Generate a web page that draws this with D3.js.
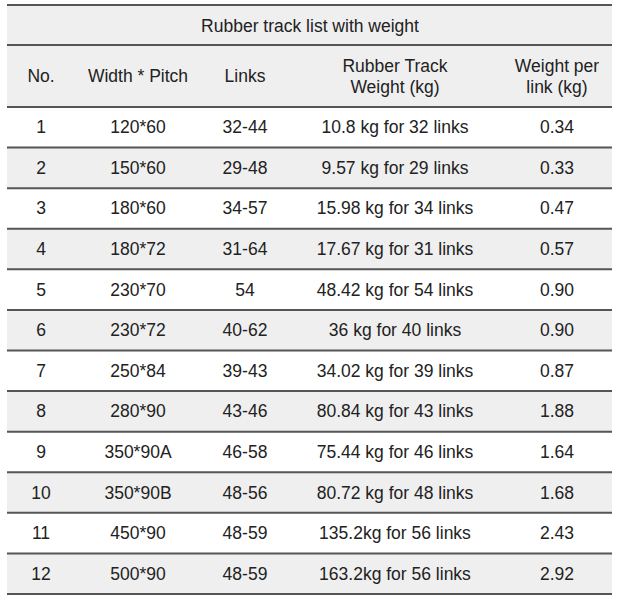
<!DOCTYPE html>
<html><head><meta charset="utf-8">
<script src="https://cdn.jsdelivr.net/npm/d3@7"></script>
<style>body{margin:0;background:#fff}</style>
</head><body>
<svg id="chart" width="621" height="607"></svg>
<script>
var title = "Rubber track list with weight"
var headers = [["No."], ["Width * Pitch"], ["Links"], ["Rubber Track", "Weight (kg)"], ["Weight per", "link (kg)"]]
var nums = ["1","2","3","4","5","6","7","8","9","10","11","12"]
var sizes = ["120*60","150*60","180*60","180*72","230*70","230*72","250*84","280*90","350*90A","350*90B","450*90","500*90"]
var links = ["32-44","29-48","34-57","31-64","54","40-62","39-43","43-46","46-58","48-56","48-59","48-59"]
var weights = ["10.8 kg for 32 links","9.57 kg for 29 links","15.98 kg for 34 links","17.67 kg for 31 links","48.42 kg for 54 links","36 kg for 40 links","34.02 kg for 39 links","80.84 kg for 43 links","75.44 kg for 46 links","80.72 kg for 48 links","135.2kg for 56 links","163.2kg for 56 links"]
var perLink = ["0.34","0.33","0.47","0.57","0.90","0.90","0.87","1.88","1.64","1.68","2.43","2.92"]

var svg = d3.select("#chart")
var left = 7, right = 612
var colX = [41, 138, 245, 395, 557]
var font = "Liberation Sans, Arial, sans-serif"
var fs = 17.5
var rows = nums.map((n, i) => [n, sizes[i], links[i], weights[i], perLink[i]])

var y = d3.scaleBand().domain(d3.range(rows.length)).range([107, 594]).padding(0)

// backgrounds
svg.append("rect").attr("x", left).attr("y", 5).attr("width", right - left).attr("height", 102).attr("fill", "#efefef")
svg.selectAll("rect.row").data(rows).enter().append("rect")
  .attr("x", left).attr("y", (d, i) => y(i)).attr("width", right - left).attr("height", y.bandwidth())
  .attr("fill", (d, i) => i % 2 ? "#efefef" : "#fff")

// lines
var lineY = [5, 45, 107].concat(rows.map((d, i) => y(i) + y.bandwidth()))
svg.selectAll("line.h").data(lineY).enter().append("line")
  .attr("x1", left).attr("x2", right).attr("y1", d => d).attr("y2", d => d)
  .attr("stroke", "#555").attr("stroke-width", 2)

svg.append("text").attr("x", 310).attr("y", 26).attr("text-anchor", "middle").attr("dominant-baseline", "central")
  .attr("font-family", font).attr("font-size", fs).attr("fill", "#222").text(title)

headers.forEach(function(h, j) {
  h.forEach(function(t, k) {
    svg.append("text").attr("x", colX[j]).attr("y", 76 + (k - (h.length - 1) / 2) * 21)
      .attr("text-anchor", "middle").attr("dominant-baseline", "central")
      .attr("font-family", font).attr("font-size", fs).attr("fill", "#222").text(t)
  })
})

rows.forEach(function(r, i) {
  r.forEach(function(t, j) {
    svg.append("text").attr("x", colX[j]).attr("y", y(i) + y.bandwidth() / 2)
      .attr("text-anchor", "middle").attr("dominant-baseline", "central")
      .attr("font-family", font).attr("font-size", fs).attr("fill", "#222").text(t)
  })
})
</script>
</body></html>
